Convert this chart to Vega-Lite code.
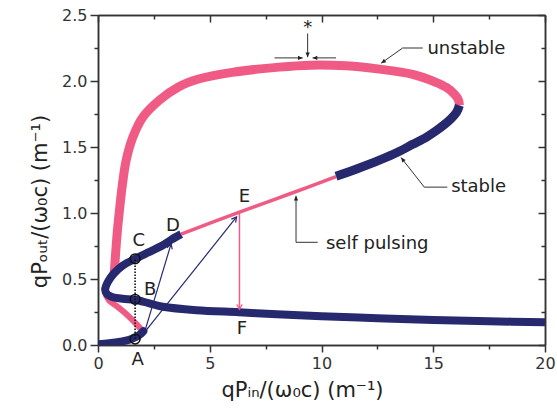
{
  "$schema": "https://vega.github.io/schema/vega-lite/v6.json",
  "width": 447,
  "height": 330,
  "autosize": "none",
  "padding": {"left": 98, "top": 15, "right": 12, "bottom": 69},
  "config": {
    "view": {"stroke": null},
    "font": "DejaVu Sans",
    "axis": {
      "domainColor": "#333333", "domainWidth": 1.5,
      "tickColor": "#333333", "tickWidth": 1.5,
      "labelFont": "DejaVu Sans", "labelFontSize": 16, "labelColor": "#333333",
      "titleFont": "DejaVu Sans", "titleFontSize": 21, "titleFontWeight": "normal", "titleColor": "#222222",
      "grid": false, "labelFlush": false, "labelOverlap": false
    }
  },
  "datasets": {
    "curves": [
      {"s": "pinkTop", "i": 1, "x": 16.17, "y": 1.815},
      {"s": "pinkTop", "i": 2, "x": 16.12, "y": 1.86},
      {"s": "pinkTop", "i": 3, "x": 15.95, "y": 1.9},
      {"s": "pinkTop", "i": 4, "x": 15.6, "y": 1.95},
      {"s": "pinkTop", "i": 5, "x": 15.12, "y": 1.99},
      {"s": "pinkTop", "i": 6, "x": 14.08, "y": 2.05},
      {"s": "pinkTop", "i": 7, "x": 12.6, "y": 2.09},
      {"s": "pinkTop", "i": 8, "x": 11.1, "y": 2.115},
      {"s": "pinkTop", "i": 9, "x": 9.5, "y": 2.12},
      {"s": "pinkTop", "i": 10, "x": 8.1, "y": 2.105},
      {"s": "pinkTop", "i": 11, "x": 6.0, "y": 2.065},
      {"s": "pinkTop", "i": 12, "x": 4.5, "y": 2.015},
      {"s": "pinkTop", "i": 13, "x": 3.6, "y": 1.955},
      {"s": "pinkTop", "i": 14, "x": 2.75, "y": 1.855},
      {"s": "pinkTop", "i": 15, "x": 2.0, "y": 1.725},
      {"s": "pinkTop", "i": 16, "x": 1.56, "y": 1.575},
      {"s": "pinkTop", "i": 17, "x": 1.26, "y": 1.4},
      {"s": "pinkTop", "i": 18, "x": 1.08, "y": 1.2},
      {"s": "pinkTop", "i": 19, "x": 0.96, "y": 1.02},
      {"s": "pinkTop", "i": 20, "x": 0.87, "y": 0.87},
      {"s": "pinkTop", "i": 21, "x": 0.8, "y": 0.72},
      {"s": "pinkTop", "i": 22, "x": 0.75, "y": 0.6},
      {"s": "pinkTop", "i": 23, "x": 0.72, "y": 0.54},

      {"s": "pinkMid", "i": 1, "x": 2.02, "y": 0.1},
      {"s": "pinkMid", "i": 2, "x": 1.71, "y": 0.16},
      {"s": "pinkMid", "i": 3, "x": 1.26, "y": 0.235},
      {"s": "pinkMid", "i": 4, "x": 0.81, "y": 0.298},
      {"s": "pinkMid", "i": 5, "x": 0.51, "y": 0.336},
      {"s": "pinkMid", "i": 6, "x": 0.37, "y": 0.374},
      {"s": "pinkMid", "i": 7, "x": 0.31, "y": 0.405},

      {"s": "blueLow", "i": 1, "x": 0.0, "y": 0.005},
      {"s": "blueLow", "i": 2, "x": 0.5, "y": 0.013},
      {"s": "blueLow", "i": 3, "x": 1.0, "y": 0.025},
      {"s": "blueLow", "i": 4, "x": 1.4, "y": 0.04},
      {"s": "blueLow", "i": 5, "x": 1.72, "y": 0.063},
      {"s": "blueLow", "i": 6, "x": 1.92, "y": 0.085},
      {"s": "blueLow", "i": 7, "x": 2.03, "y": 0.105},

      {"s": "blueArc", "i": 1, "x": 3.72, "y": 0.84},
      {"s": "blueArc", "i": 2, "x": 3.3, "y": 0.8},
      {"s": "blueArc", "i": 3, "x": 2.9, "y": 0.755},
      {"s": "blueArc", "i": 4, "x": 2.3, "y": 0.705},
      {"s": "blueArc", "i": 5, "x": 1.66, "y": 0.653},
      {"s": "blueArc", "i": 6, "x": 1.11, "y": 0.602},
      {"s": "blueArc", "i": 7, "x": 0.7, "y": 0.54},
      {"s": "blueArc", "i": 8, "x": 0.45, "y": 0.48},
      {"s": "blueArc", "i": 9, "x": 0.32, "y": 0.42},
      {"s": "blueArc", "i": 10, "x": 0.4, "y": 0.385},
      {"s": "blueArc", "i": 11, "x": 0.66, "y": 0.362},
      {"s": "blueArc", "i": 12, "x": 1.1, "y": 0.35},
      {"s": "blueArc", "i": 13, "x": 1.66, "y": 0.343},
      {"s": "blueArc", "i": 14, "x": 2.3, "y": 0.315},
      {"s": "blueArc", "i": 15, "x": 2.9, "y": 0.29},
      {"s": "blueArc", "i": 16, "x": 4.4, "y": 0.264},
      {"s": "blueArc", "i": 17, "x": 6.3, "y": 0.248},
      {"s": "blueArc", "i": 18, "x": 8.0, "y": 0.233},
      {"s": "blueArc", "i": 19, "x": 10.0, "y": 0.218},
      {"s": "blueArc", "i": 20, "x": 12.5, "y": 0.203},
      {"s": "blueArc", "i": 21, "x": 15.0, "y": 0.19},
      {"s": "blueArc", "i": 22, "x": 17.5, "y": 0.18},
      {"s": "blueArc", "i": 23, "x": 20.0, "y": 0.172},

      {"s": "pinkSP", "i": 1, "x": 3.72, "y": 0.84},
      {"s": "pinkSP", "i": 2, "x": 6.3, "y": 1.005},
      {"s": "pinkSP", "i": 3, "x": 8.5, "y": 1.14},
      {"s": "pinkSP", "i": 4, "x": 10.65, "y": 1.275},

      {"s": "blueUp", "i": 1, "x": 10.65, "y": 1.278},
      {"s": "blueUp", "i": 2, "x": 11.6, "y": 1.335},
      {"s": "blueUp", "i": 3, "x": 12.59, "y": 1.4},
      {"s": "blueUp", "i": 4, "x": 13.4, "y": 1.46},
      {"s": "blueUp", "i": 5, "x": 14.08, "y": 1.52},
      {"s": "blueUp", "i": 6, "x": 14.7, "y": 1.575},
      {"s": "blueUp", "i": 7, "x": 15.12, "y": 1.622},
      {"s": "blueUp", "i": 8, "x": 15.5, "y": 1.67},
      {"s": "blueUp", "i": 9, "x": 15.8, "y": 1.715},
      {"s": "blueUp", "i": 10, "x": 16.05, "y": 1.765},
      {"s": "blueUp", "i": 11, "x": 16.17, "y": 1.815}
    ],
    "segs": [
      {"k": "navy", "x": 2.08, "y": 0.096, "x2": 3.27, "y2": 0.766},
      {"k": "navy", "x": 2.08, "y": 0.096, "x2": 6.2, "y2": 0.97},
      {"k": "pink", "x": 6.33, "y": 1.0, "x2": 6.33, "y2": 0.27},
      {"k": "dot", "x": 1.66, "y": 0.045, "x2": 1.66, "y2": 0.653},
      {"k": "black", "x": 14.53, "y": 2.25, "x2": 13.63, "y2": 2.25},
      {"k": "black", "x": 13.63, "y": 2.25, "x2": 12.67, "y2": 2.135},
      {"k": "black", "x": 15.63, "y": 1.196, "x2": 14.6, "y2": 1.196},
      {"k": "black", "x": 14.6, "y": 1.196, "x2": 13.56, "y2": 1.42},
      {"k": "black", "x": 9.83, "y": 0.778, "x2": 8.86, "y2": 0.778},
      {"k": "black", "x": 8.86, "y": 0.778, "x2": 8.86, "y2": 1.13},
      {"k": "black", "x": 9.38, "y": 2.36, "x2": 9.38, "y2": 2.18},
      {"k": "black", "x": 7.9, "y": 2.175, "x2": 9.16, "y2": 2.175},
      {"k": "black", "x": 10.65, "y": 2.175, "x2": 9.6, "y2": 2.175}
    ],
    "heads": [
      {"k": "navy", "x": 3.27, "y": 0.766, "a": 16.8},
      {"k": "navy", "x": 6.2, "y": 0.97, "a": 38.6},
      {"k": "pink", "x": 6.33, "y": 0.27, "a": 180},
      {"k": "black", "x": 12.67, "y": 2.135, "a": 234.7},
      {"k": "black", "x": 13.56, "y": 1.42, "a": 321.7},
      {"k": "black", "x": 8.86, "y": 1.13, "a": 0},
      {"k": "black", "x": 9.38, "y": 2.18, "a": 180},
      {"k": "black", "x": 9.16, "y": 2.175, "a": 90},
      {"k": "black", "x": 9.6, "y": 2.175, "a": 270}
    ],
    "pts": [
      {"p": "A", "x": 1.66, "y": 0.045},
      {"p": "B", "x": 1.66, "y": 0.346},
      {"p": "C", "x": 1.66, "y": 0.653}
    ],
    "labels": [
      {"k": "letter", "t": "A", "x": 1.77, "y": -0.11},
      {"k": "letter", "t": "B", "x": 2.33, "y": 0.42},
      {"k": "letter", "t": "C", "x": 1.82, "y": 0.79},
      {"k": "letter", "t": "D", "x": 3.35, "y": 0.9},
      {"k": "letter", "t": "E", "x": 6.55, "y": 1.12},
      {"k": "letter", "t": "F", "x": 6.44, "y": 0.12},
      {"k": "letter", "t": "*", "x": 9.38, "y": 2.4},
      {"k": "note", "t": "unstable", "x": 14.74, "y": 2.24},
      {"k": "note", "t": "stable", "x": 15.8, "y": 1.196},
      {"k": "note", "t": "self pulsing", "x": 10.2, "y": 0.766}
    ]
  },
  "encoding": {
    "x": {"field": "x", "type": "quantitative", "scale": {"domain": [0, 20], "nice": false, "zero": false}, "axis": null},
    "y": {"field": "y", "type": "quantitative", "scale": {"domain": [0, 2.5], "nice": false, "zero": false}, "axis": null}
  },
  "layer": [
    {
      "data": {"name": "pts"},
      "mark": {"type": "point", "opacity": 0},
      "encoding": {
        "x": {"field": "x", "type": "quantitative", "scale": {"domain": [0, 20], "nice": false, "zero": false},
              "axis": {"orient": "bottom", "values": [0, 5, 10, 15, 20], "format": "d", "tickSize": 7, "labelPadding": 3,
                       "title": "qPᵢₙ/(ω₀c) (m⁻¹)", "titlePadding": 8, "titleX": 204}},
        "y": {"field": "y", "type": "quantitative", "scale": {"domain": [0, 2.5], "nice": false, "zero": false},
              "axis": {"orient": "left", "values": [0, 0.5, 1, 1.5, 2, 2.5], "format": ".1f", "tickSize": 8, "labelPadding": 3,
                       "title": "qPₒᵤₜ/(ω₀c) (m⁻¹)", "titlePadding": 11, "titleY": 186}}
      }
    },
    {
      "data": {"name": "pts"},
      "mark": {"type": "point", "opacity": 0},
      "encoding": {
        "x": {"field": "x", "type": "quantitative", "scale": {"domain": [0, 20], "nice": false, "zero": false},
              "axis": {"orient": "bottom", "values": [2.5, 7.5, 12.5, 17.5], "labels": false, "tickSize": 4, "title": null}},
        "y": {"field": "y", "type": "quantitative", "scale": {"domain": [0, 2.5], "nice": false, "zero": false},
              "axis": {"orient": "left", "values": [0.25, 0.75, 1.25, 1.75, 2.25], "labels": false, "tickSize": 4, "title": null}}
      }
    },
    {
      "data": {"name": "pts"},
      "mark": {"type": "point", "opacity": 0},
      "encoding": {
        "x": {"field": "x", "type": "quantitative", "scale": {"domain": [0, 20], "nice": false, "zero": false},
              "axis": {"orient": "top", "values": [0, 5, 10, 15, 20], "labels": false, "tickSize": -7, "title": null}},
        "y": {"field": "y", "type": "quantitative", "scale": {"domain": [0, 2.5], "nice": false, "zero": false},
              "axis": {"orient": "right", "values": [0, 0.5, 1, 1.5, 2, 2.5], "labels": false, "tickSize": -7, "title": null}}
      }
    },
    {
      "data": {"name": "pts"},
      "mark": {"type": "point", "opacity": 0},
      "encoding": {
        "x": {"field": "x", "type": "quantitative", "scale": {"domain": [0, 20], "nice": false, "zero": false},
              "axis": {"orient": "top", "values": [2.5, 7.5, 12.5, 17.5], "labels": false, "tickSize": -4, "title": null}},
        "y": {"field": "y", "type": "quantitative", "scale": {"domain": [0, 2.5], "nice": false, "zero": false},
              "axis": {"orient": "right", "values": [0.25, 0.75, 1.25, 1.75, 2.25], "labels": false, "tickSize": -4, "title": null}}
      }
    },
    {
      "data": {"name": "curves"},
      "transform": [{"filter": "datum.s === 'pinkTop'"}],
      "mark": {"type": "line", "clip": true, "strokeWidth": 9, "color": "#EF5B84", "strokeCap": "butt", "strokeJoin": "round", "interpolate": "catmull-rom"},
      "encoding": {"order": {"field": "i", "type": "quantitative"}}
    },
    {
      "data": {"name": "curves"},
      "transform": [{"filter": "datum.s === 'pinkMid'"}],
      "mark": {"type": "line", "clip": true, "strokeWidth": 6, "color": "#EF5B84", "strokeCap": "butt", "strokeJoin": "round", "interpolate": "catmull-rom"},
      "encoding": {"order": {"field": "i", "type": "quantitative"}}
    },
    {
      "data": {"name": "curves"},
      "transform": [{"filter": "datum.s === 'blueLow'"}],
      "mark": {"type": "line", "clip": true, "strokeWidth": 8, "color": "#27296F", "strokeCap": "round", "strokeJoin": "round", "interpolate": "catmull-rom"},
      "encoding": {"order": {"field": "i", "type": "quantitative"}}
    },
    {
      "data": {"name": "curves"},
      "transform": [{"filter": "datum.s === 'blueArc'"}],
      "mark": {"type": "line", "clip": true, "strokeWidth": 8, "color": "#27296F", "strokeCap": "butt", "strokeJoin": "round", "interpolate": "catmull-rom"},
      "encoding": {"order": {"field": "i", "type": "quantitative"}}
    },
    {
      "data": {"name": "curves"},
      "transform": [{"filter": "datum.s === 'pinkSP'"}],
      "mark": {"type": "line", "clip": true, "strokeWidth": 3.5, "color": "#EF5B84", "strokeCap": "butt", "interpolate": "catmull-rom"},
      "encoding": {"order": {"field": "i", "type": "quantitative"}}
    },
    {
      "data": {"name": "curves"},
      "transform": [{"filter": "datum.s === 'blueUp'"}],
      "mark": {"type": "line", "clip": true, "strokeWidth": 9, "color": "#27296F", "strokeCap": "butt", "strokeJoin": "round", "interpolate": "catmull-rom"},
      "encoding": {"order": {"field": "i", "type": "quantitative"}}
    },
    {
      "data": {"name": "segs"},
      "transform": [{"filter": "datum.k === 'navy'"}],
      "mark": {"type": "rule", "strokeWidth": 1.2, "color": "#27296F"},
      "encoding": {"x2": {"field": "x2"}, "y2": {"field": "y2"}}
    },
    {
      "data": {"name": "segs"},
      "transform": [{"filter": "datum.k === 'pink'"}],
      "mark": {"type": "rule", "strokeWidth": 1.5, "color": "#EF5B84"},
      "encoding": {"x2": {"field": "x2"}, "y2": {"field": "y2"}}
    },
    {
      "data": {"name": "segs"},
      "transform": [{"filter": "datum.k === 'black'"}],
      "mark": {"type": "rule", "strokeWidth": 1, "color": "#333333"},
      "encoding": {"x2": {"field": "x2"}, "y2": {"field": "y2"}}
    },
    {
      "data": {"name": "segs"},
      "transform": [{"filter": "datum.k === 'dot'"}],
      "mark": {"type": "rule", "strokeWidth": 1.6, "color": "#111111", "strokeDash": [1.5, 1.5]},
      "encoding": {"x2": {"field": "x2"}, "y2": {"field": "y2"}}
    },
    {
      "data": {"name": "heads"},
      "transform": [{"filter": "datum.k !== 'black'"}],
      "mark": {"type": "point", "shape": "M -0.55 1 L 0 0 L 0.55 1", "filled": false, "size": 100, "strokeWidth": 1.2, "opacity": 1},
      "encoding": {
        "angle": {"field": "a", "type": "quantitative", "scale": null},
        "color": {"field": "k", "type": "nominal", "scale": {"domain": ["navy", "pink"], "range": ["#27296F", "#EF5B84"]}, "legend": null}
      }
    },
    {
      "data": {"name": "heads"},
      "transform": [{"filter": "datum.k === 'black'"}],
      "mark": {"type": "point", "shape": "M -0.45 1 L 0 0 L 0.45 1 Z", "filled": true, "size": 90, "color": "#222222", "opacity": 1},
      "encoding": {
        "angle": {"field": "a", "type": "quantitative", "scale": null}
      }
    },
    {
      "data": {"name": "pts"},
      "mark": {"type": "point", "shape": "circle", "filled": false, "size": 95, "strokeWidth": 1.6, "color": "#111111", "opacity": 1}
    },
    {
      "data": {"name": "labels"},
      "transform": [{"filter": "datum.k === 'letter'"}],
      "mark": {"type": "text", "fontSize": 18, "color": "#222222", "align": "center", "baseline": "middle", "font": "DejaVu Sans"},
      "encoding": {"text": {"field": "t"}}
    },
    {
      "data": {"name": "labels"},
      "transform": [{"filter": "datum.k === 'note'"}],
      "mark": {"type": "text", "fontSize": 18, "color": "#222222", "align": "left", "baseline": "middle", "font": "DejaVu Sans"},
      "encoding": {"text": {"field": "t"}}
    }
  ],
  "resolve": {"axis": {"x": "independent", "y": "independent"}}
}
